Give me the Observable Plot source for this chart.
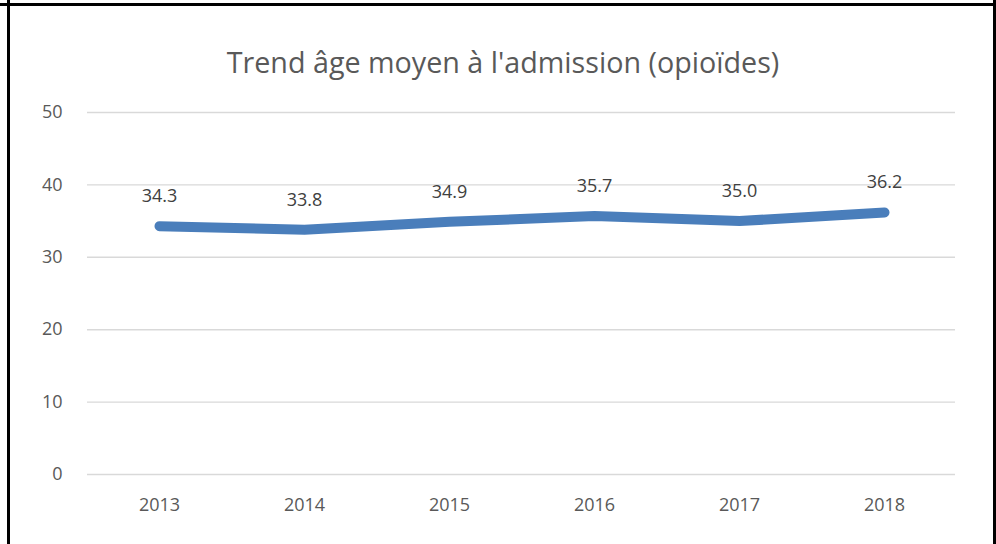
<!DOCTYPE html>
<html>
<head>
<meta charset="utf-8">
<script src="https://cdn.jsdelivr.net/npm/d3@7"></script>
<script src="https://cdn.jsdelivr.net/npm/@observablehq/plot@0.6"></script>
<style>
  html, body { margin: 0; padding: 0; background: #fff; }
  #wrap { position: relative; width: 996px; height: 544px; overflow: hidden; background: #fff; font-family: "Open Sans", sans-serif; }
  .bd { position: absolute; background: #000; }
  #title { position: absolute; left: 0; top: 42px; width: 996px; padding-left: 10px; box-sizing: border-box; text-align: center; font-size: 28.7px; line-height: 40px; color: #595959; font-family: "Open Sans", sans-serif; }
  #chart { position: absolute; left: 0; top: 90px; }
</style>
</head>
<body>
<div id="wrap">
  <div id="title">Trend âge moyen à l'admission (opioïdes)</div>
  <div id="chart"></div>
  <div class="bd" style="left:0;top:3px;width:996px;height:3px"></div>
  <div class="bd" style="left:7px;top:0;width:3px;height:544px"></div>
  <div class="bd" style="left:993px;top:0;width:3px;height:544px"></div>
</div>
<script>
const years = ["2013", "2014", "2015", "2016", "2017", "2018"];
const ages = [34.3, 33.8, 34.9, 35.7, 35.0, 36.2];
const yTicks = [0, 10, 20, 30, 40, 50];

const data = years.map((y, i) => ({year: y, age: ages[i]}));

const chart = Plot.plot({
  width: 996,
  height: 454,
  marginTop: 22,
  marginBottom: 70,
  marginLeft: 87,
  marginRight: 41,
  style: {fontFamily: "Open Sans, sans-serif", fontSize: "18px", color: "#595959", background: "transparent"},
  x: {type: "point", domain: years, padding: 0.48, label: null},
  y: {domain: [0, 50], label: null},
  marks: [
    Plot.gridY(yTicks, {stroke: "#d9d9d9", strokeOpacity: 1, strokeWidth: 1.4}),
    Plot.axisY(yTicks, {tickSize: 0, tickPadding: 25, label: null, fill: "#595959", fontSize: 18}),
    Plot.axisX({tickSize: 0, tickPadding: 24, label: null, fill: "#595959", fontSize: 18}),
    Plot.line(data, {x: "year", y: "age", stroke: "#4a7ebb", strokeWidth: 10, strokeLinecap: "round", strokeLinejoin: "round"}),
    Plot.text(data, {x: "year", y: "age", text: d => d.age.toFixed(1), dy: -30, fill: "#404040", fontSize: 18})
  ]
});
document.getElementById("chart").appendChild(chart);
</script>
</body>
</html>
